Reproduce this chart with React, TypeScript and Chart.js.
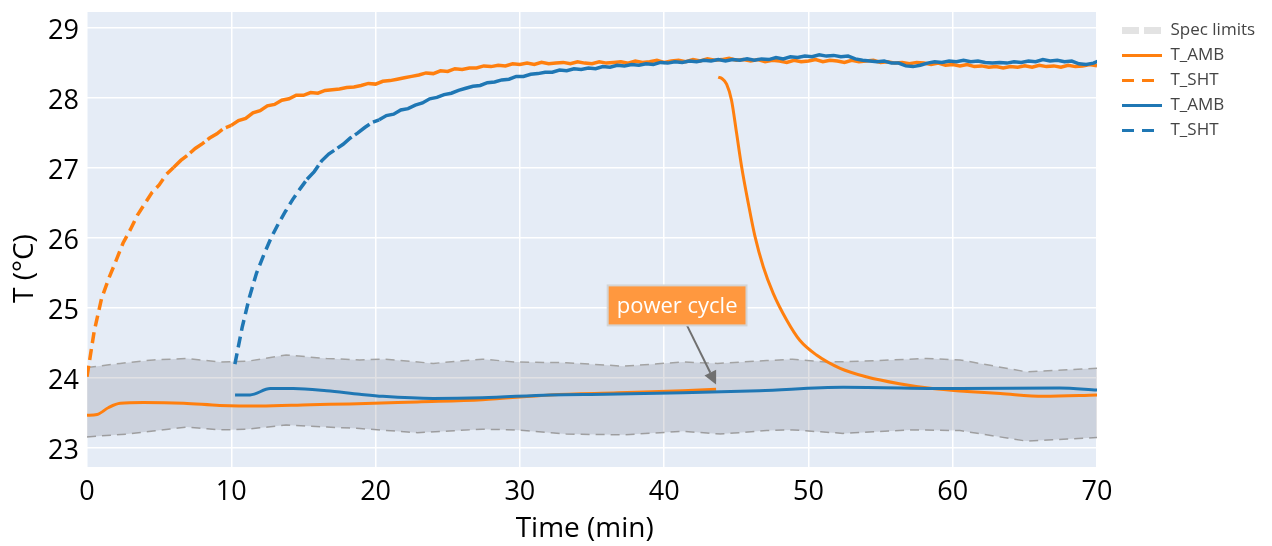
import React, { useEffect, useRef } from 'react';
import { Chart, registerables } from 'chart.js';

Chart.register(...registerables);

const FONT = "'Open Sans', 'DejaVu Sans', sans-serif";
const ORANGE = '#ff7f0e';
const BLUE = '#1f77b4';

// ---------- data ----------
const xTicks = [0, 10, 20, 30, 40, 50, 60, 70];
const yTicks = [23, 24, 25, 26, 27, 28, 29];

const specUpperT = [0, 2.3, 4.6, 6.9, 9.2, 11.1, 13.8, 16.6, 18.9, 20.7, 24, 27.4, 29.7, 33.2, 37.2, 41.3, 43.7, 47.1, 48.9, 51.2, 53.6, 58.2, 60.5, 65.1, 70];
const specUpperV = [24.15, 24.21, 24.26, 24.28, 24.23, 24.24, 24.33, 24.28, 24.26, 24.27, 24.21, 24.27, 24.23, 24.22, 24.17, 24.23, 24.21, 24.25, 24.27, 24.23, 24.24, 24.28, 24.26, 24.09, 24.14];
const specLowerT = [0, 2.8, 6.9, 9.2, 11.1, 13.8, 16.6, 18.9, 22.9, 27.4, 29.7, 33.2, 37.2, 41.3, 43.9, 47.1, 48.9, 52.4, 57, 60.5, 65.1, 70];
const specLowerV = [23.16, 23.2, 23.3, 23.26, 23.27, 23.33, 23.3, 23.28, 23.22, 23.27, 23.26, 23.2, 23.19, 23.24, 23.2, 23.25, 23.26, 23.21, 23.26, 23.25, 23.1, 23.15];

const ambOrangeT = [0, 0.7, 1.5, 2.3, 3.9, 6.7, 9.2, 12, 15.5, 18.2, 22.9, 27.4, 32.1, 36.8, 41.3, 43.6, 43.7, 43.75, 44.0, 44.33, 44.67, 45.02, 45.37, 45.83, 46.3, 46.87, 47.56, 48.49, 49.4, 50.56, 52.2, 54.0, 56.3, 58.6, 61, 63.3, 66.3, 70];
const ambOrangeV = [23.47, 23.48, 23.58, 23.64, 23.65, 23.64, 23.61, 23.6, 23.62, 23.63, 23.66, 23.69, 23.76, 23.79, 23.82, 23.84, null, 28.3, 28.28, 28.2, 27.97, 27.5, 27.02, 26.5, 26.02, 25.59, 25.21, 24.83, 24.54, 24.33, 24.14, 24.02, 23.92, 23.85, 23.81, 23.78, 23.74, 23.76];

const shtOrangeStart = 0;
const shtOrangeStep = 0.5;
const shtOrangeV = [
  24.02, 24.67, 25.13, 25.42, 25.67, 25.93, 26.12, 26.33, 26.49, 26.65,
  26.76, 26.91, 27.01, 27.11, 27.19, 27.28, 27.35, 27.43, 27.49, 27.57,
  27.61, 27.68, 27.71, 27.79, 27.82, 27.89, 27.91, 27.97, 27.99, 28.04,
  28.04, 28.08, 28.07, 28.11, 28.12, 28.13, 28.15, 28.16, 28.18, 28.21,
  28.2, 28.24, 28.25, 28.27, 28.29, 28.31, 28.33, 28.36, 28.35, 28.39,
  28.38, 28.42, 28.41, 28.43, 28.43, 28.46, 28.45, 28.47, 28.46, 28.49,
  28.48, 28.5, 28.48, 28.51, 28.49, 28.5, 28.51, 28.49, 28.52, 28.5,
  28.49, 28.52, 28.5, 28.51, 28.52, 28.5, 28.53, 28.51, 28.52, 28.54,
  28.51, 28.53, 28.54, 28.52, 28.55, 28.53, 28.56, 28.54, 28.55, 28.57,
  28.54, 28.55, 28.53, 28.55, 28.52, 28.54, 28.53, 28.51, 28.54, 28.52,
  28.53, 28.55, 28.52, 28.54, 28.53, 28.51, 28.54, 28.52, 28.53, 28.54,
  28.51, 28.52, 28.5, 28.51, 28.49, 28.51, 28.5, 28.48, 28.5, 28.47,
  28.48, 28.46, 28.48, 28.45, 28.46, 28.44, 28.45, 28.43, 28.45, 28.44,
  28.46, 28.44, 28.47, 28.45, 28.46, 28.44, 28.47, 28.45, 28.46, 28.48,
  28.46,
];

const ambBlueT = [10.26, 11.3, 12.7, 14.3, 16.6, 18.9, 20.5, 24, 27.4, 32.1, 35.9, 41.3, 46.6, 52.4, 60.5, 67.4, 70];
const ambBlueV = [23.76, 23.76, 23.85, 23.85, 23.82, 23.77, 23.74, 23.71, 23.72, 23.76, 23.77, 23.79, 23.82, 23.87, 23.85, 23.86, 23.83];

const shtBlueStart = 10.25;
const shtBlueStep = 0.5;
const shtBlueV = [
  24.2, 24.72, 25.15, 25.5, 25.76, 26.0, 26.2, 26.38, 26.55, 26.7,
  26.84, 26.95, 27.1, 27.2, 27.27, 27.34, 27.43, 27.5, 27.58, 27.65,
  27.69, 27.75, 27.77, 27.83, 27.85, 27.9, 27.93, 27.99, 28.01, 28.05,
  28.07, 28.11, 28.14, 28.17, 28.18, 28.22, 28.23, 28.26, 28.27, 28.31,
  28.31, 28.34, 28.35, 28.37, 28.37, 28.4, 28.39, 28.42, 28.41, 28.43,
  28.42, 28.45, 28.44, 28.47, 28.46, 28.48, 28.47, 28.49, 28.48, 28.51,
  28.5, 28.52, 28.51, 28.53, 28.52, 28.54, 28.53, 28.55, 28.53, 28.55,
  28.54, 28.56, 28.54, 28.56, 28.55, 28.58, 28.56, 28.59, 28.58, 28.6,
  28.59, 28.62, 28.6, 28.61, 28.59, 28.6, 28.56, 28.54, 28.53, 28.52,
  28.53, 28.5, 28.5, 28.46, 28.45, 28.47, 28.5, 28.52, 28.51, 28.53,
  28.52, 28.54, 28.52, 28.53, 28.51, 28.5, 28.51, 28.5, 28.52, 28.51,
  28.53, 28.52, 28.55, 28.53, 28.54, 28.52, 28.53, 28.49, 28.48, 28.5,
  28.54,
];

const legendLabels = ['Spec limits', 'T_AMB', 'T_SHT', 'T_AMB', 'T_SHT'];

const annotText = 'power cycle';
const annotX = 43.6;
const annotY = 23.91;

// ---------- helpers ----------
const pts = (ts: number[], vs: (number | null)[]) => ts.map((t, i) => ({ x: t, y: vs[i] }));
const seq = (start: number, step: number, vs: number[]) => vs.map((v, i) => ({ x: start + i * step, y: v }));

const plotBg = {
  id: 'plotBg',
  beforeDraw(chart: any) {
    const { ctx, chartArea: a } = chart;
    ctx.save();
    ctx.fillStyle = '#e5ecf6';
    ctx.fillRect(a.left, a.top, a.right - a.left, a.bottom - a.top);
    ctx.restore();
  },
};

const legendLayout = {
  id: 'legendLayout',
  beforeLayout(chart: any) {
    const l = chart.legend;
    if (l && !l._fixedFit) {
      const orig = l.fit.bind(l);
      l.fit = function () {
        orig();
        this.width = 175;
      };
      l._fixedFit = true;
    }
  },
  afterLayout(chart: any) {
    const l = chart.legend;
    if (l) {
      l.left += 17;
      l.right += 17;
      l.top += 2;
    }
  },
};

const annotPlugin = {
  id: 'powerCycle',
  afterDatasetsDraw(chart: any) {
    const { ctx, scales } = chart;
    const tx = scales.x.getPixelForValue(annotX);
    const ty = scales.y.getPixelForValue(annotY);
    const cx = tx - 39;
    const cy = ty - 79;
    ctx.save();
    ctx.font = `22px ${FONT}`;
    const tw = ctx.measureText(annotText).width;
    const bw = tw + 18;
    const bh = 40;
    const dx = tx - cx;
    const dy = ty - cy;
    const s = Math.min(bh / 2 / Math.abs(dy), bw / 2 / Math.abs(dx));
    const sx = cx + dx * s;
    const sy = cy + dy * s;
    const len = Math.hypot(tx - sx, ty - sy);
    const ux = (tx - sx) / len;
    const uy = (ty - sy) / len;
    const hl = 13;
    const hw = 6.5;
    const bx = tx - ux * hl;
    const by = ty - uy * hl;
    ctx.strokeStyle = '#707070';
    ctx.lineWidth = 2;
    ctx.beginPath();
    ctx.moveTo(sx, sy);
    ctx.lineTo(bx, by);
    ctx.stroke();
    ctx.fillStyle = '#707070';
    ctx.beginPath();
    ctx.moveTo(tx, ty);
    ctx.lineTo(bx - uy * hw, by + ux * hw);
    ctx.lineTo(bx + uy * hw, by - ux * hw);
    ctx.closePath();
    ctx.fill();
    ctx.fillStyle = '#ff983f';
    ctx.fillRect(cx - bw / 2, cy - bh / 2, bw, bh);
    ctx.strokeStyle = '#d4d4d4';
    ctx.lineWidth = 2;
    ctx.strokeRect(cx - bw / 2, cy - bh / 2, bw, bh);
    ctx.fillStyle = '#ffffff';
    ctx.textAlign = 'center';
    ctx.textBaseline = 'middle';
    ctx.fillText(annotText, cx, cy + 1);
    ctx.restore();
  },
};

const dashBy = (early: number, mid: number) => (c: any) => {
  const x = c.p0.parsed.x;
  if (x < early) return [11, 6];
  if (x < mid) return [18, 4];
  return undefined;
};

export default function App() {
  const ref = useRef<HTMLCanvasElement>(null);

  useEffect(() => {
    if (!ref.current) return;
    const legendStyles = [
      { color: '#e3e3e3', width: 7, dash: [17, 5] },
      { color: ORANGE, width: 3, dash: [] },
      { color: ORANGE, width: 3, dash: [12, 8] },
      { color: BLUE, width: 3, dash: [] },
      { color: BLUE, width: 3, dash: [12, 8] },
    ];
    const chart = new Chart(ref.current, {
      type: 'line',
      data: {
        datasets: [
          {
            label: 'Spec limits',
            data: pts(specUpperT, specUpperV),
            borderColor: '#a3a3a3',
            borderWidth: 1.5,
            borderDash: [9, 6],
            backgroundColor: 'rgba(120,120,130,0.22)',
            fill: '+1',
            pointRadius: 0,
            order: 10,
          },
          {
            label: 'Spec lower',
            data: pts(specLowerT, specLowerV),
            borderColor: '#a3a3a3',
            borderWidth: 1.5,
            borderDash: [9, 6],
            fill: false,
            pointRadius: 0,
            order: 10,
          },
          {
            label: 'T_AMB',
            data: pts(ambOrangeT, ambOrangeV),
            borderColor: ORANGE,
            borderWidth: 3,
            cubicInterpolationMode: 'monotone',
            spanGaps: false,
            pointRadius: 0,
            fill: false,
            order: 4,
          },
          {
            label: 'T_SHT',
            data: seq(shtOrangeStart, shtOrangeStep, shtOrangeV),
            borderColor: ORANGE,
            borderWidth: 3.5,
            borderDash: [],
            segment: { borderDash: dashBy(6, 10) },
            pointRadius: 0,
            fill: false,
            order: 3,
          },
          {
            label: 'T_AMB',
            data: pts(ambBlueT, ambBlueV),
            borderColor: BLUE,
            borderWidth: 3,
            cubicInterpolationMode: 'monotone',
            pointRadius: 0,
            fill: false,
            order: 2,
          },
          {
            label: 'T_SHT',
            data: seq(shtBlueStart, shtBlueStep, shtBlueV),
            borderColor: BLUE,
            borderWidth: 3.5,
            borderDash: [],
            segment: { borderDash: dashBy(15, 20) },
            pointRadius: 0,
            fill: false,
            order: 1,
          },
        ] as any,
      },
      options: {
        responsive: false,
        maintainAspectRatio: false,
        animation: false,
        devicePixelRatio: 1,
        events: [],
        layout: { padding: { top: 12, right: 0, bottom: 0, left: 0 } },
        scales: {
          x: {
            type: 'linear',
            min: 0,
            max: 70,
            afterBuildTicks: (s: any) => {
              s.ticks = xTicks.map((v) => ({ value: v }));
            },
            afterFit: (s: any) => {
              s.height = 79;
            },
            grid: { color: '#ffffff', lineWidth: 1.5, drawTicks: false },
            border: { display: false },
            ticks: {
              color: '#000',
              font: { family: FONT, size: 27 },
              padding: 9,
              maxRotation: 0,
            },
            title: {
              display: true,
              text: 'Time (min)  ',
              color: '#000',
              font: { family: FONT, size: 28 },
              padding: { top: 0, bottom: 0 },
            },
          },
          y: {
            type: 'linear',
            min: 22.73,
            max: 29.23,
            afterBuildTicks: (s: any) => {
              s.ticks = yTicks.map((v) => ({ value: v }));
            },
            afterFit: (s: any) => {
              s.width = 87;
              s.paddingTop = 0;
              s.paddingBottom = 0;
            },
            grid: { color: '#ffffff', lineWidth: 1.5, drawTicks: false },
            border: { display: false },
            ticks: {
              color: '#000',
              font: { family: FONT, size: 27 },
              padding: 8,
              labelOffset: 3,
            },
            title: {
              display: true,
              text: 'T (°C)        ',
              color: '#000',
              font: { family: FONT, size: 28 },
              padding: { top: 8, bottom: 0 },
            },
          },
        },
        plugins: {
          tooltip: { enabled: false },
          legend: {
            display: true,
            position: 'right',
            align: 'start',
            labels: {
              usePointStyle: true,
              pointStyleWidth: 40,
              padding: 8,
              color: '#444',
              font: { family: FONT, size: 17 },
              generateLabels: () =>
                legendLabels.map((text, i) => ({
                  text,
                  fillStyle: 'rgba(0,0,0,0)',
                  strokeStyle: legendStyles[i].color,
                  lineWidth: legendStyles[i].width,
                  lineDash: legendStyles[i].dash,
                  lineCap: 'butt',
                  pointStyle: 'line',
                  hidden: false,
                  fontColor: '#444',
                  datasetIndex: i === 0 ? 0 : i + 1,
                })),
            },
          },
        },
      } as any,
      plugins: [plotBg, legendLayout, annotPlugin],
    });
    return () => chart.destroy();
  }, []);

  return (
    <div style={{ position: 'fixed', left: 0, top: 0, width: 1272, height: 546, background: '#fff' }}>
      <canvas ref={ref} width={1272} height={546} style={{ display: 'block' }} />
    </div>
  );
}
